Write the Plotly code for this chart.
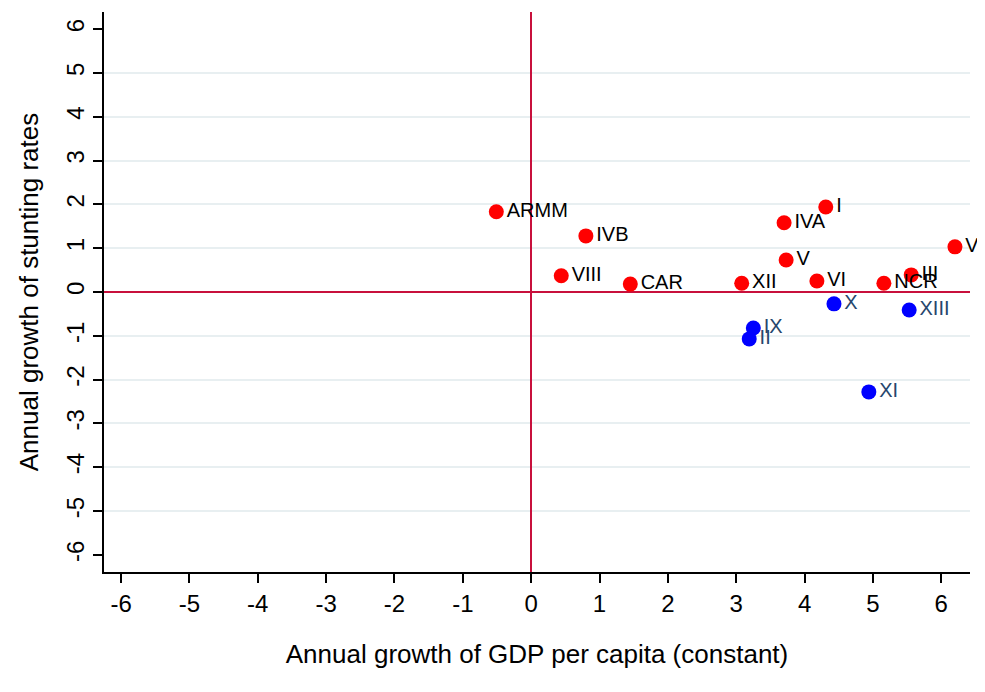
import plotly.graph_objects as go

# Regions with positive growth of stunting (red)
red_labels = ["ARMM", "IVB", "VIII", "CAR", "XII", "I", "IVA", "V", "VI", "NCR", "III", "VII"]
red_x = [-0.51, 0.80, 0.44, 1.45, 3.08, 4.31, 3.70, 3.73, 4.18, 5.16, 5.56, 6.20]
red_y = [1.83, 1.28, 0.37, 0.18, 0.20, 1.94, 1.58, 0.73, 0.25, 0.20, 0.39, 1.03]

# Regions with negative growth of stunting (blue)
blue_labels = ["X", "XIII", "IX", "II", "XI"]
blue_x = [4.43, 5.53, 3.25, 3.19, 4.94]
blue_y = [-0.27, -0.41, -0.82, -1.07, -2.28]

tick_vals = [-6, -5, -4, -3, -2, -1, 0, 1, 2, 3, 4, 5, 6]
tick_text = ["-6", "-5", "-4", "-3", "-2", "-1", "0", "1", "2", "3", "4", "5", "6"]
grid_vals = [-5, -4, -3, -2, -1, 1, 2, 3, 4, 5]

font_family = "Liberation Sans, Arial, sans-serif"

fig = go.Figure()
fig.add_trace(go.Scatter(
    x=red_x, y=red_y, mode="markers+text", text=red_labels,
    textposition="middle right",
    textfont=dict(family=font_family, size=20, color="black"),
    marker=dict(color="#ff0000", size=15),
    cliponaxis=False, showlegend=False,
))
fig.add_trace(go.Scatter(
    x=blue_x, y=blue_y, mode="markers+text", text=blue_labels,
    textposition="middle right",
    textfont=dict(family=font_family, size=20, color="#26466d"),
    marker=dict(color="#0000ff", size=15),
    cliponaxis=False, showlegend=False,
))
# invisible trace to activate grid axis
fig.add_trace(go.Scatter(x=[0], y=[0], yaxis="y2", mode="markers",
                         marker=dict(opacity=0), showlegend=False, hoverinfo="skip"))

fig.update_layout(
    width=977, height=684,
    margin=dict(l=96, r=15, t=4, b=120),
    paper_bgcolor="white", plot_bgcolor="white",
    font=dict(family=font_family, color="black"),
    xaxis=dict(
        range=[-6.25, 6.42], tickvals=tick_vals, ticktext=tick_text, ticks="outside", ticklen=9,
        tickcolor="black", tickwidth=1.5, showline=True, linecolor="black", linewidth=1.5,
        showgrid=False, zeroline=True, zerolinecolor="#c8103c", zerolinewidth=2,
        automargin=False,
        tickfont=dict(size=24), title=dict(text="Annual growth of GDP per capita (constant)",
                                           font=dict(size=26), standoff=29),
    ),
    yaxis=dict(
        range=[-6.39, 6.39], tickvals=tick_vals, ticktext=tick_text, ticks="outside", ticklen=9,
        tickcolor="black", tickwidth=1.5, showline=True, linecolor="black", linewidth=1.5,
        showgrid=False, zeroline=True, zerolinecolor="#c8103c", zerolinewidth=2,
        automargin=False,
        tickfont=dict(size=24), title=dict(text="Annual growth of stunting rates",
                                           font=dict(size=26), standoff=16),
        tickangle=-90,
    ),
    yaxis2=dict(
        range=[-6.39, 6.39], tickvals=grid_vals, overlaying="y", showticklabels=False,
        showgrid=True, gridcolor="#e8eff1", gridwidth=2, zeroline=False, layer="below traces",
        automargin=False,
    ),
)
fig.write_html("out.html")
